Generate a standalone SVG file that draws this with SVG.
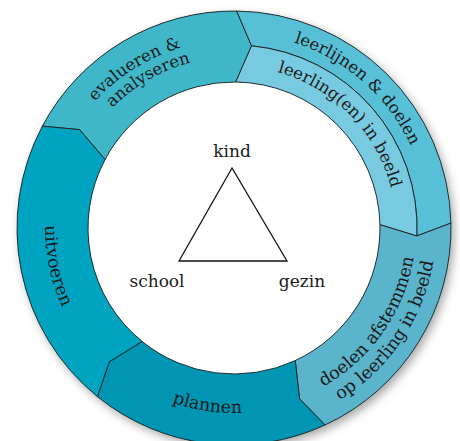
<svg xmlns="http://www.w3.org/2000/svg" width="460" height="441" viewBox="0 0 460 441">
<style>
.seg{stroke:#1e1e1e;stroke-width:0.9;stroke-linejoin:miter}
.lbl{font-family:"DejaVu Serif","Liberation Serif",serif;font-size:16.5px;fill:#1a1a1a}
.lbl2{font-family:"DejaVu Serif","Liberation Serif",serif;font-size:17.5px;fill:#1a1a1a}
.ctr{font-family:"DejaVu Serif","Liberation Serif",serif;font-size:17px;fill:#1a1a1a;text-anchor:middle}
</style>
<defs>
<filter id="sh" x="-15%" y="-15%" width="135%" height="135%">
<feDropShadow dx="3" dy="4" stdDeviation="5" flood-color="#000" flood-opacity="0.35"/>
</filter>
<path id="p1" d="M 59.69 298.43 A 188 188 0 0 1 373.71 102.20"/>
<path id="p2" d="M 73.31 286.49 A 171 171 0 0 1 364.99 118.08"/>
<path id="p3" d="M 112.61 75.39 A 195 195 0 0 1 400.26 329.89"/>
<path id="p4" d="M 142.71 94.17 A 162 162 0 0 1 365.56 322.53"/>
<path id="p5" d="M 157.08 392.95 A 182 182 0 0 0 362.69 99.31"/>
<path id="p6" d="M 151.84 412.54 A 202 202 0 0 0 374.32 82.69"/>
<path id="p7" d="M 49.06 232.84 A 185 185 0 0 0 409.44 286.70"/>
<path id="p8" d="M 163.20 52.76 A 189 189 0 0 0 240.60 416.88"/>
</defs>
<rect width="460" height="441" fill="#ffffff"/>
<circle cx="234" cy="228" r="217" fill="#2aa9c2" filter="url(#sh)"/>
<circle cx="234" cy="228" r="146" fill="#ffffff"/>

<g id="evalueren">
<path class="seg" fill="#40b7c9" d="M 42.40 126.12 A 217 217 0 0 1 236.65 11.02 L 251.54 45.84 L 235.78 82.01 A 146 146 0 0 0 105.09 159.46 L 79.66 129.67 Z"/>
<text class="lbl"><textPath href="#p1" startOffset="50%" text-anchor="middle">evalueren &amp;</textPath></text>
<text class="lbl"><textPath href="#p2" startOffset="50%" text-anchor="middle">analyseren</textPath></text>
</g>
<g id="leerlijnen">
<path class="seg" fill="#57bfd6" d="M 236.65 11.02 A 217 217 0 0 1 450.94 223.08 L 416.83 235.98 A 183 183 0 0 0 251.54 45.84 Z"/>
<text class="lbl"><textPath href="#p3" startOffset="50%" text-anchor="middle">leerlijnen &amp; doelen</textPath></text>
</g>
<g id="leerlingen">
<path class="seg" fill="#78cae0" d="M 251.54 45.84 A 183 183 0 0 1 416.83 235.98 L 379.96 224.69 A 146 146 0 0 0 235.78 82.01 Z"/>
<text class="lbl"><textPath href="#p4" startOffset="50%" text-anchor="middle">leerling(en) in beeld</textPath></text>
</g>
<g id="doelen">
<path class="seg" fill="#5ab4cc" d="M 450.94 223.08 A 217 217 0 0 1 325.02 424.99 L 299.58 398.85 L 295.24 360.54 A 146 146 0 0 0 379.96 224.69 L 416.83 235.98 Z"/>
<text class="lbl2"><textPath href="#p5" startOffset="50%" text-anchor="middle">doelen afstemmen</textPath></text>
<text class="lbl2"><textPath href="#p6" startOffset="50%" text-anchor="middle">op leerling in beeld</textPath></text>
</g>
<g id="plannen">
<path class="seg" fill="#0096b3" d="M 325.02 424.99 A 217 217 0 0 1 97.44 396.64 L 109.19 361.84 L 142.12 341.46 A 146 146 0 0 0 295.24 360.54 L 299.58 398.85 Z"/>
<text class="lbl2"><textPath href="#p7" startOffset="50%" text-anchor="middle">plannen</textPath></text>
</g>
<g id="uitvoeren">
<path class="seg" fill="#00a4c1" d="M 97.44 396.64 A 217 217 0 0 1 42.40 126.12 L 79.66 129.67 L 105.09 159.46 A 146 146 0 0 0 142.12 341.46 L 109.19 361.84 Z"/>
<text class="lbl2"><textPath href="#p8" startOffset="50%" text-anchor="middle">uitvoeren</textPath></text>
</g>

<g id="connectors">
<polygon points="232,168 179,261 287,261" fill="none" stroke="#111" stroke-width="1.3" stroke-linejoin="miter"/>
</g>
<g id="kind"><text class="ctr" x="232" y="157">kind</text></g>
<g id="school"><text class="ctr" x="157" y="287">school</text></g>
<g id="gezin"><text class="ctr" x="302" y="287">gezin</text></g>
</svg>
